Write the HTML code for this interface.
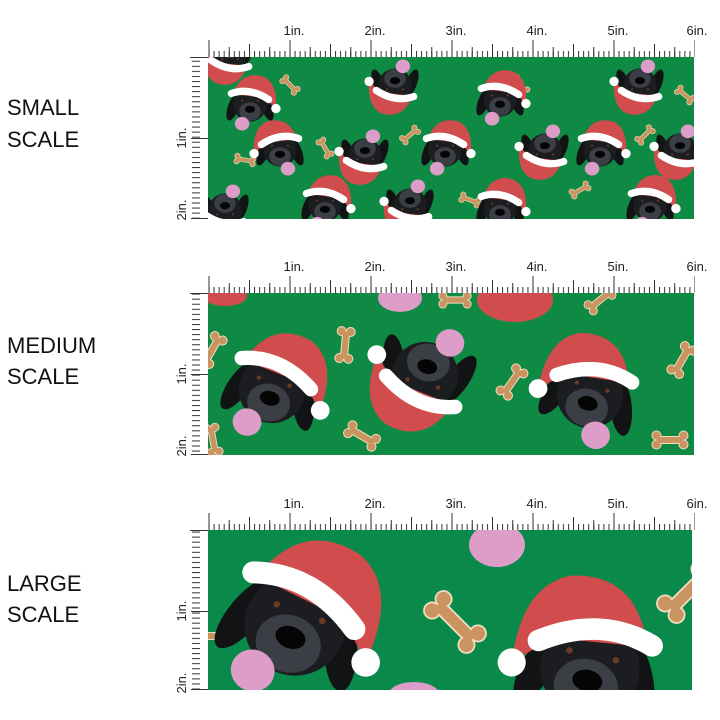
<!DOCTYPE html>
<html><head><meta charset="utf-8"><style>
html,body{margin:0;padding:0;background:#fff;width:720px;height:720px;overflow:hidden}
svg{display:block;position:absolute;left:0;top:0}
</style></head><body>
<svg width="720" height="720" viewBox="0 0 720 720" xmlns="http://www.w3.org/2000/svg" font-family="Liberation Sans, sans-serif">
<defs>
 <pattern id="t16" patternUnits="userSpaceOnUse" width="5.0625" height="20" x="208.5" y="0"><rect x="0" y="14" width="1" height="6" fill="#333"/></pattern>
 <pattern id="t4" patternUnits="userSpaceOnUse" width="20.25" height="20" x="208.5" y="0"><rect x="0" y="10" width="1" height="10" fill="#333"/></pattern>
 <pattern id="t1" patternUnits="userSpaceOnUse" width="81" height="20" x="208.5" y="0"><rect x="0" y="3" width="1" height="17" fill="#333"/><rect x="40.5" y="7" width="1" height="13" fill="#333"/></pattern>
 <g id="ruler">
  <rect x="208" y="0" width="487" height="20" fill="url(#t16)"/>
  <rect x="208" y="0" width="487" height="20" fill="url(#t4)"/>
  <rect x="208" y="0" width="487" height="20" fill="url(#t1)"/>
 </g>
 <pattern id="v16" patternUnits="userSpaceOnUse" width="20" height="5.0625" x="0" y="0"><rect x="12" y="0" width="8" height="1" fill="#333"/></pattern>
 <g id="bone">
  <g fill="#f3dcc0"><rect x="-27" y="-8" width="54" height="16" rx="4"/><circle cx="-27" cy="-9" r="10"/><circle cx="-27" cy="9" r="10"/><circle cx="27" cy="-9" r="10"/><circle cx="27" cy="9" r="10"/></g>
  <g fill="#c9945f"><rect x="-27" y="-6" width="54" height="12"/><circle cx="-27" cy="-9" r="8"/><circle cx="-27" cy="9" r="8"/><circle cx="27" cy="-9" r="8"/><circle cx="27" cy="9" r="8"/></g>
 </g>
 <g id="dog">
  <ellipse cx="-46" cy="5" rx="15" ry="40" transform="rotate(20 -46 5)" fill="#121314"/>
  <ellipse cx="46" cy="5" rx="15" ry="40" transform="rotate(-20 46 5)" fill="#121314"/>
  <ellipse cx="0" cy="0" rx="46" ry="46" fill="#1c1d20"/>
  <ellipse cx="0" cy="18" rx="30" ry="26" fill="#3b3f45"/>
  <ellipse cx="0" cy="12" rx="14" ry="10" fill="#050505"/>
  <circle cx="-22" cy="-12" r="3" fill="#6b3a22"/><circle cx="22" cy="-12" r="3" fill="#6b3a22"/>
  <ellipse cx="-22" cy="52" rx="20" ry="19" fill="#dd9dc8"/>
  <path d="M-48,-30 Q-25,-95 35,-80 Q78,-62 72,10 L40,-20 Z" fill="#d14c4c"/>
  <path d="M-52,-32 Q0,-50 52,-15" stroke="#fff" stroke-width="20" stroke-linecap="round" fill="none"/>
  <circle cx="72" cy="10" r="13" fill="#fff"/>
 </g>
 <clipPath id="cs"><rect x="208" y="57" width="486" height="162"/></clipPath>
 <clipPath id="cm"><rect x="208" y="293" width="486" height="162"/></clipPath>
 <clipPath id="cl"><rect x="208" y="530" width="484" height="160"/></clipPath>
</defs>

<g font-size="22" fill="#111">
 <text x="7" y="115">SMALL</text><text x="7" y="147">SCALE</text>
 <text x="7" y="353">MEDIUM</text><text x="7" y="384">SCALE</text>
 <text x="7" y="591">LARGE</text><text x="7" y="622">SCALE</text>
</g>

<use href="#ruler" transform="translate(0,37)"/>
<use href="#ruler" transform="translate(0,273)"/>
<use href="#ruler" transform="translate(0,510)"/>
<g fill="#333">
 <rect x="190" y="57" width="18" height="1"/><rect x="190" y="293" width="18" height="1"/><rect x="190" y="530" width="18" height="1"/>
 <rect x="188" y="57" width="20" height="162" fill="url(#v16)"/>
 <rect x="188" y="293" width="20" height="162" fill="url(#v16)"/>
 <rect x="188" y="530" width="20" height="160" fill="url(#v16)"/>
 <rect x="191" y="138" width="17" height="1"/><rect x="191" y="374" width="17" height="1"/><rect x="191" y="611" width="17" height="1"/>
 <rect x="191" y="218" width="17" height="1"/><rect x="191" y="454" width="17" height="1"/><rect x="191" y="689" width="17" height="1"/>
</g>
<g font-size="13" fill="#222" text-anchor="middle">
 <g id="lab1"><text x="294" y="35">1in.</text><text x="375" y="35">2in.</text><text x="456" y="35">3in.</text><text x="537" y="35">4in.</text><text x="618" y="35">5in.</text><text x="697" y="35">6in.</text></g>
 <use href="#lab1" transform="translate(0,236)"/>
 <use href="#lab1" transform="translate(0,473)"/>
 <text transform="translate(186,138) rotate(-90)">1in.</text>
 <text transform="translate(186,210) rotate(-90)">2in.</text>
 <text transform="translate(186,374) rotate(-90)">1in.</text>
 <text transform="translate(186,446) rotate(-90)">2in.</text>
 <text transform="translate(186,611) rotate(-90)">1in.</text>
 <text transform="translate(186,683) rotate(-90)">2in.</text>
</g>

<!-- small -->
<g clip-path="url(#cs)">
 <rect x="208" y="57" width="486" height="162" fill="#0f8a45"/>
 <use href="#bone" transform="translate(290,85) rotate(45) scale(0.3)"/>
 <use href="#bone" transform="translate(410,135) rotate(-40) scale(0.3)"/>
 <use href="#bone" transform="translate(520,85) rotate(50) scale(0.3)"/>
 <use href="#bone" transform="translate(645,135) rotate(-45) scale(0.3)"/>
 <use href="#bone" transform="translate(245,160) rotate(10) scale(0.3)"/>
 <use href="#bone" transform="translate(325,148) rotate(60) scale(0.3)"/>
 <use href="#bone" transform="translate(580,190) rotate(-30) scale(0.3)"/>
 <use href="#bone" transform="translate(685,95) rotate(40) scale(0.3)"/>
 <use href="#bone" transform="translate(470,200) rotate(20) scale(0.3)"/>
 <use href="#dog" transform="translate(250,105) scale(0.36)"/>
 <use href="#dog" transform="translate(395,85) rotate(180) scale(0.36)"/>
 <use href="#dog" transform="translate(500,100) scale(0.36)"/>
 <use href="#dog" transform="translate(640,85) rotate(180) scale(0.36)"/>
 <use href="#dog" transform="translate(280,150) scale(-0.36,0.36)"/>
 <use href="#dog" transform="translate(365,155) rotate(180) scale(0.36)"/>
 <use href="#dog" transform="translate(445,150) scale(0.36)"/>
 <use href="#dog" transform="translate(545,150) rotate(180) scale(0.36)"/>
 <use href="#dog" transform="translate(600,150) scale(0.36)"/>
 <use href="#dog" transform="translate(680,150) rotate(180) scale(0.36)"/>
 <use href="#dog" transform="translate(325,205) scale(0.36)"/>
 <use href="#dog" transform="translate(410,205) rotate(180) scale(0.36)"/>
 <use href="#dog" transform="translate(500,208) scale(0.36)"/>
 <use href="#dog" transform="translate(650,205) scale(0.36)"/>
 <use href="#dog" transform="translate(225,210) rotate(180) scale(0.36)"/>
 <use href="#dog" transform="translate(230,55) rotate(180) scale(0.36)"/>
</g>

<!-- medium -->
<g clip-path="url(#cm)">
 <rect x="208" y="293" width="486" height="162" fill="#0f8a45"/>
 <ellipse cx="400" cy="298" rx="22" ry="14" fill="#dd9dc8"/>
 <ellipse cx="515" cy="300" rx="38" ry="22" fill="#d14c4c"/>
 <ellipse cx="225" cy="296" rx="22" ry="10" fill="#d14c4c"/>
 <use href="#bone" transform="translate(345,345) rotate(95) scale(0.5)"/>
 <use href="#bone" transform="translate(512,382) rotate(-55) scale(0.5)"/>
 <use href="#bone" transform="translate(362,436) rotate(30) scale(0.5)"/>
 <use href="#bone" transform="translate(670,440) rotate(0) scale(0.5)"/>
 <use href="#bone" transform="translate(212,350) rotate(-60) scale(0.5)"/>
 <use href="#bone" transform="translate(682,360) rotate(-60) scale(0.5)"/>
 <use href="#bone" transform="translate(600,300) rotate(-40) scale(0.45)"/>
 <use href="#bone" transform="translate(455,300) rotate(0) scale(0.45)"/>
 <use href="#bone" transform="translate(213,440) rotate(80) scale(0.45)"/>
 <use href="#dog" transform="translate(272,390) rotate(15) scale(0.72)"/>
 <use href="#dog" transform="translate(425,375) rotate(195) scale(0.72)"/>
 <use href="#dog" transform="translate(590,395) scale(-0.72,0.72) rotate(-15)"/>
</g>

<!-- large -->
<g clip-path="url(#cl)">
 <rect x="208" y="530" width="484" height="160" fill="#0a8a4a"/>
 <ellipse cx="497" cy="545" rx="28" ry="22" fill="#dd9dc8"/>
 <ellipse cx="414" cy="694" rx="25" ry="12" fill="#dd9dc8"/>
 <use href="#bone" transform="translate(455,622) rotate(45) scale(0.9)"/>
 <use href="#bone" transform="translate(688,592) rotate(-45) scale(0.9)"/>
 <use href="#bone" transform="translate(214,636) rotate(0) scale(0.5)"/>
 <use href="#dog" transform="translate(295,625) rotate(20) scale(1.1)"/>
 <use href="#dog" transform="translate(590,668) scale(-1.08,1.08) rotate(-12)"/>
</g>
</svg>
</body></html>
